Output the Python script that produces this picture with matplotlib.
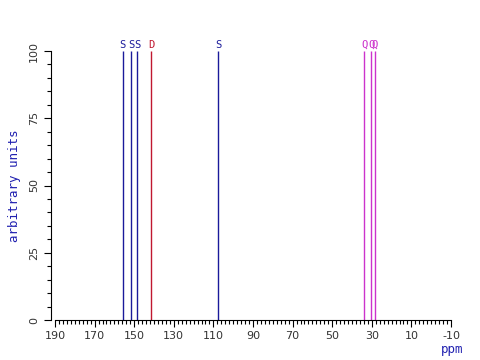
import matplotlib
matplotlib.use("Agg")
import matplotlib.pyplot as plt
from matplotlib.ticker import MultipleLocator, FixedLocator

# peak positions (ppm), heights and multiplicity
shifts = [155.8, 151.6, 148.4, 141.5, 107.5, 33.8, 30.4, 28.6]
heights = [100, 100, 100, 100, 100, 100, 100, 100]
mult = ['S', 'S', 'S', 'D', 'S', 'Q', 'Q', 'Q']
colors = {'S': '#1a1a9a', 'D': '#c01830', 'Q': '#cc33cc'}
xticks = [190, 170, 150, 130, 110, 90, 70, 50, 30, 10, -10]
yticks = [0, 25, 50, 75, 100]

fig = plt.figure(figsize=(4.8, 3.6), dpi=100)
ax = fig.add_axes([55/480, 40/360, 396/480, 269/360])

for x, h, m in zip(shifts, heights, mult):
    ax.vlines(x, 0, h, color=colors[m], linewidth=1.0)
    ax.annotate(m, (x, h), xytext=(0, 1), textcoords='offset points',
                ha='center', va='bottom', color=colors[m], fontsize=7.5,
                family='DejaVu Sans Mono')

ax.set_xlim(190, -10)
ax.set_ylim(0, 100)
ax.spines['top'].set_visible(False)
ax.spines['right'].set_visible(False)
ax.spines['left'].set_position(('outward', 3))
ax.xaxis.set_major_locator(FixedLocator(xticks))
ax.xaxis.set_minor_locator(MultipleLocator(2))
ax.yaxis.set_major_locator(FixedLocator(yticks))
ax.yaxis.set_minor_locator(MultipleLocator(5))
ax.tick_params(axis='both', which='major', length=5, width=0.8, labelsize=8,
               colors='black', labelcolor='#333333')
ax.tick_params(axis='both', which='minor', length=3, width=0.8)
ax.tick_params(axis='x', pad=3)
ax.set_xticklabels([str(t) for t in xticks])
ax.set_yticklabels([str(t) for t in yticks], rotation=90, va='center')
ax.set_ylabel('arbitrary units', color='#2020b0', fontsize=9,
              family='DejaVu Sans Mono', labelpad=6)
fig.text(452/480, 1 - 349/360, 'ppm', color='#2020b0', fontsize=9,
         family='DejaVu Sans Mono', ha='center', va='center')

fig.savefig('out.png', dpi=100)
